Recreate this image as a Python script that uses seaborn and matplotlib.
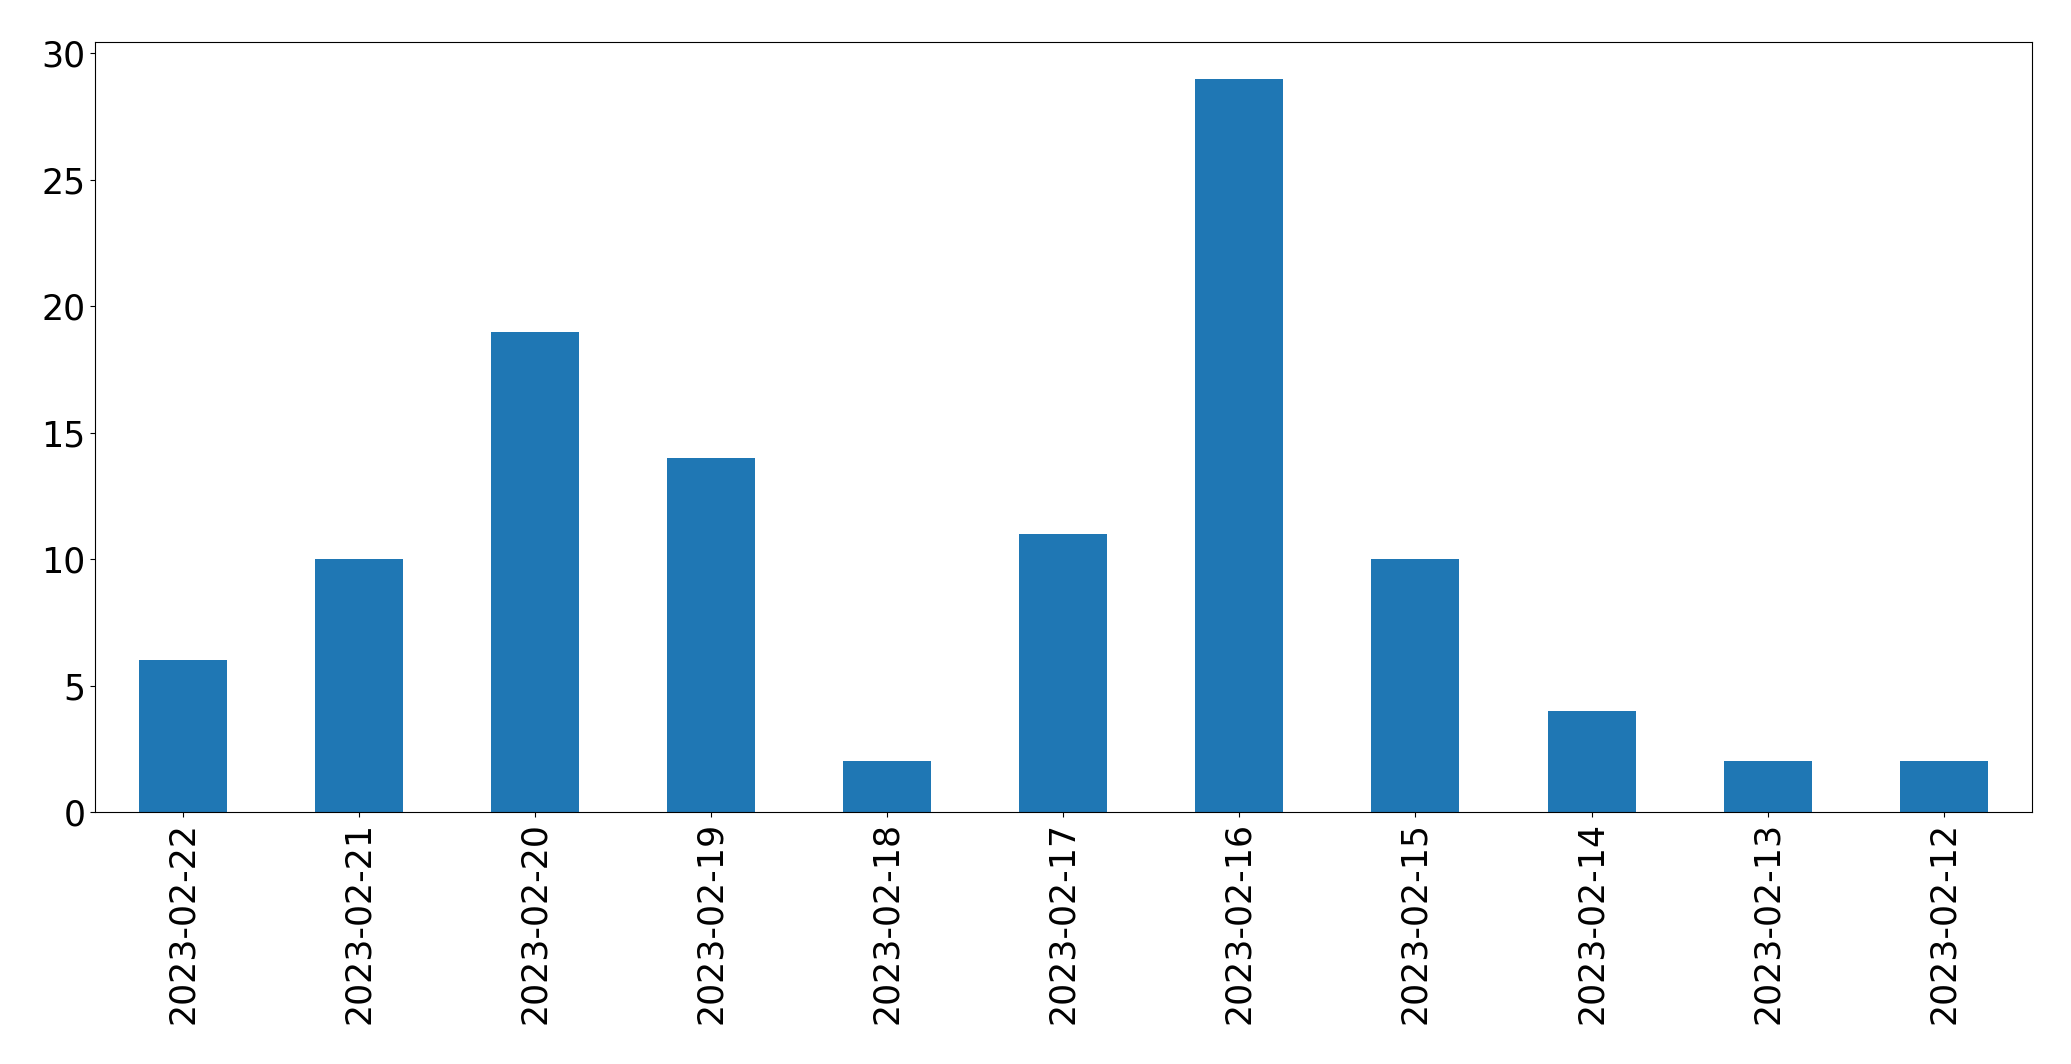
import matplotlib
matplotlib.use("Agg")
import matplotlib.pyplot as plt
import pandas as pd
import seaborn as sns

dates = ["2023-02-22", "2023-02-21", "2023-02-20", "2023-02-19", "2023-02-18",
         "2023-02-17", "2023-02-16", "2023-02-15", "2023-02-14", "2023-02-13",
         "2023-02-12"]
counts = [6, 10, 19, 14, 2, 11, 29, 10, 4, 2, 2]

df = pd.DataFrame({"date": dates, "count": counts})

fig, ax = plt.subplots(figsize=(20.71, 10.64), dpi=100)
fig.subplots_adjust(left=0.0459, right=0.981, top=0.9605, bottom=0.2368)

sns.barplot(data=df, x="date", y="count", order=dates, color="#1f77b4",
            saturation=1, width=0.5, ax=ax)

ax.set_xlabel("")
ax.set_ylabel("")
ax.tick_params(axis="both", labelsize=25)
ax.tick_params(axis="x", labelrotation=90)

fig.savefig("out.png", dpi=100)
